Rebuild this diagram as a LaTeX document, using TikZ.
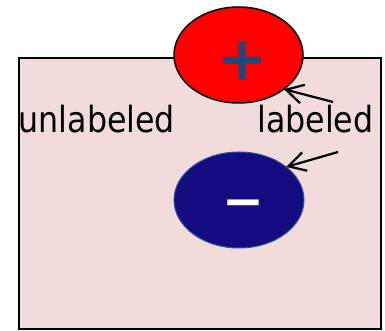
\documentclass[tikz,border=0pt]{standalone}
\usepackage{fontspec}
\setmainfont{DejaVu Sans}[FakeStretch=0.88]
\newfontfamily\signfont{DejaVu Sans}
\usetikzlibrary{shapes.geometric,arrows.meta}
\definecolor{boxfill}{HTML}{F2DCDB}
\definecolor{plusblue}{HTML}{1F497D}
\definecolor{navy}{HTML}{160C82}
\definecolor{navyedge}{HTML}{2F5597}
\tikzset{
  lbl/.style={anchor=base west,inner sep=0pt,font=\fontsize{36}{40}\selectfont},
  ptr/.style={line width=2.2pt,-{Straight Barb[length=17pt,width=19pt,line width=2.2pt]}},
  charge/.style={ellipse,inner sep=0pt,outer sep=0pt},
}
\begin{document}
\begin{tikzpicture}[x=1pt,y=1pt]
\useasboundingbox (0,0) rectangle (385,331);
\node[draw=black,line width=1.5pt,fill=boxfill,minimum width=362pt,minimum height=271pt,inner sep=0pt,anchor=south west] (box) at (18,1) {};
\node[charge,draw=black,line width=1.5pt,fill=red,minimum width=129pt,minimum height=96pt] (pos) at (238.5,276) {};
\node[inner sep=0pt,text=plusblue,font=\signfont\bfseries\fontsize{60}{60}\selectfont] (plus) at (243,270) {+};
\node[charge,draw=navyedge,line width=1pt,fill=navy,minimum width=130pt,minimum height=96pt] (neg) at (239,131) {};
\node[inner sep=0pt,text=white,font=\signfont\bfseries\fontsize{50}{50}\selectfont] (minus) at (243.5,121.5) {−};
\node[lbl] (unl) at (18.5,198) {unlabeled};
\node[lbl] (lab) at (257,198) {labeled};
\coordinate (a1) at (333,229);
\coordinate (a2) at (338,179);
\draw[ptr] (a1) -- (pos.-37);
\draw[ptr] (a2) -- (neg.35);
\end{tikzpicture}
\end{document}
